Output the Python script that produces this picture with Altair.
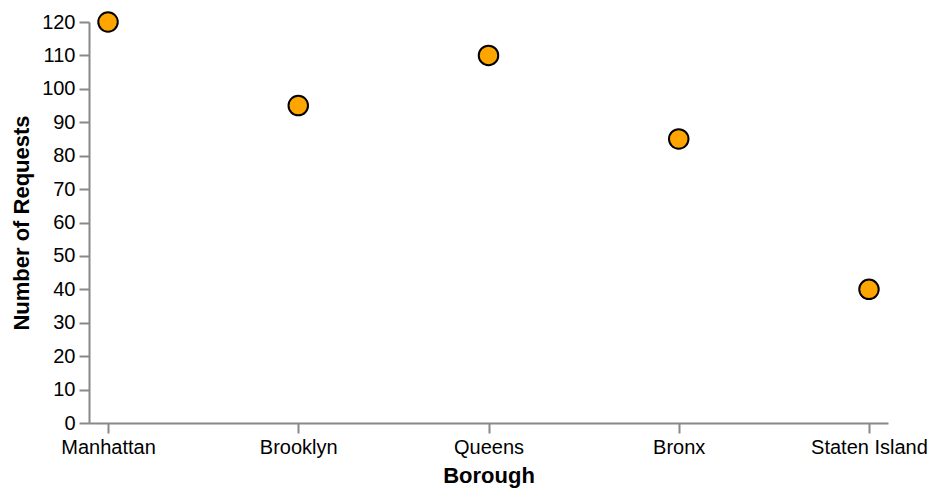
import altair as alt
import pandas as pd

boroughs = ["Manhattan", "Brooklyn", "Queens", "Bronx", "Staten Island"]
requests = [120, 95, 110, 85, 40]

df = pd.DataFrame({"Borough": boroughs, "Requests": requests})

chart = alt.Chart(df).mark_point(
    filled=True, fill="orange", stroke="black", strokeWidth=2, size=380, opacity=1
).encode(
    x=alt.X("Borough:N", sort=boroughs, title="Borough",
            scale=alt.Scale(type="point", padding=0.1),
            axis=alt.Axis(labelAngle=0, grid=False)),
    y=alt.Y("Requests:Q", title="Number of Requests",
            scale=alt.Scale(domain=[0, 120]),
            axis=alt.Axis(grid=False, tickCount=12)),
).properties(
    width=799, height=401,
    padding={"top": 8, "bottom": 12, "left": 10, "right": 10}
).configure_axis(
    labelFontSize=20, titleFontSize=22, labelColor="black", titleColor="black",
    labelFont="Liberation Sans", titleFont="Liberation Sans",
    tickSize=10, tickWidth=2, domainWidth=2, labelPadding=4, titlePadding=8,
    domainColor="#888", tickColor="#888"
).configure_view(stroke=None)

chart.save("out.html", embed_options={"renderer": "svg", "actions": False})
